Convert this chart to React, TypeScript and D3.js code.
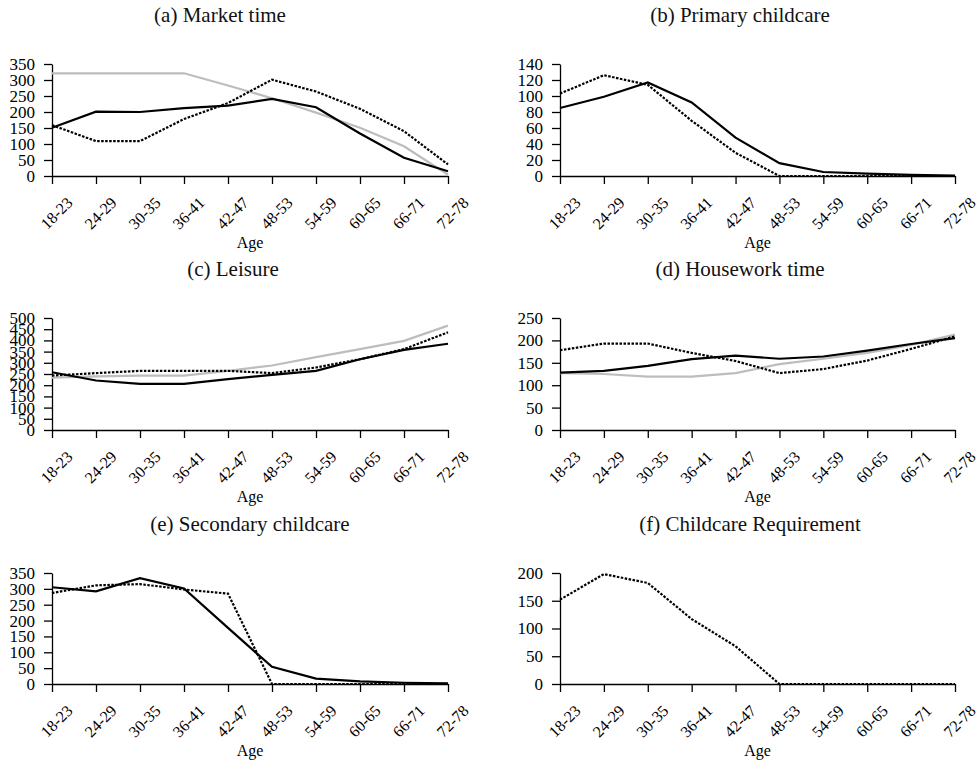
import React, { useRef, useEffect } from 'react';
import * as d3 from 'd3';

const ages = ['18-23', '24-29', '30-35', '36-41', '42-47', '48-53', '54-59', '60-65', '66-71', '72-78'];

// (a) Market time
const marketSolid = [151, 201, 200, 212, 220, 241, 215, 133, 57, 15];
const marketDotted = [159, 109, 109, 178, 228, 301, 264, 210, 140, 36];
const marketGray = [321, 321, 321, 321, 283, 243, 198, 151, 93, 4];

// (b) Primary childcare
const primarySolid = [85, 99, 117, 92, 48, 16, 5, 3, 1.5, 0.5];
const primaryDotted = [103, 126, 114, 69, 29, 0, 0, 0, 0, 0];

// (c) Leisure
const leisureSolid = [258, 221, 206, 206, 227, 246, 264, 316, 358, 385];
const leisureDotted = [243, 254, 264, 264, 264, 254, 279, 316, 361, 436];
const leisureGray = [234, 239, 243, 243, 264, 288, 325, 361, 398, 466];

// (d) Housework time
const houseSolid = [128, 132, 143, 158, 166, 159, 164, 177, 192, 205];
const houseDotted = [178, 193, 193, 172, 154, 127, 136, 155, 181, 209];
const houseGray = [127, 125, 119, 119, 127, 147, 159, 172, 190, 213];

// (e) Secondary childcare
const secondarySolid = [305, 292, 334, 301, 177, 54, 17, 8, 4, 2];
const secondaryDotted = [287, 311, 315, 298, 285, 0, 0, 0, 0, 0];

// (f) Childcare Requirement
const requirementDotted = [152, 198, 182, 117, 68, 0, 0, 0, 0, 0];

const ticksA = [0, 50, 100, 150, 200, 250, 300, 350];
const ticksB = [0, 20, 40, 60, 80, 100, 120, 140];
const ticksC = [0, 50, 100, 150, 200, 250, 300, 350, 400, 450, 500];
const ticksD = [0, 50, 100, 150, 200, 250];
const ticksE = [0, 50, 100, 150, 200, 250, 300, 350];
const ticksF = [0, 50, 100, 150, 200];

const panels = [
  { title: '(a) Market time', ticks: ticksA, solid: marketSolid, dotted: marketDotted, gray: marketGray, col: 0, row: 0, tx: 220 },
  { title: '(b) Primary childcare', ticks: ticksB, solid: primarySolid, dotted: primaryDotted, gray: null, col: 1, row: 0, tx: 740 },
  { title: '(c) Leisure', ticks: ticksC, solid: leisureSolid, dotted: leisureDotted, gray: leisureGray, col: 0, row: 1, tx: 233 },
  { title: '(d) Housework time', ticks: ticksD, solid: houseSolid, dotted: houseDotted, gray: houseGray, col: 1, row: 1, tx: 740 },
  { title: '(e) Secondary childcare', ticks: ticksE, solid: secondarySolid, dotted: secondaryDotted, gray: null, col: 0, row: 2, tx: 250 },
  { title: '(f) Childcare Requirement', ticks: ticksF, solid: null, dotted: requirementDotted, gray: null, col: 1, row: 2, tx: 750 },
];

const W = 980;
const H = 763;
const font = '"Liberation Serif", "Times New Roman", serif';

const draw = (svgRef) => {
  const svg = d3.select(svgRef.current);
  svg.selectAll('*').remove();

  const colX = [[52, 448], [560, 955]];
  const rowY = [[64, 176], [318, 430], [573, 684]];

  panels.forEach((p) => {
    const [x0, x1] = colX[p.col];
    const [y0, y1] = rowY[p.row];
    const g = svg.append('g');

    const x = d3.scalePoint().domain(ages).range([x0, x1]);
    const y = d3.scaleLinear().domain([0, d3.max(p.ticks)]).range([y1, y0]);

    // title
    g.append('text')
      .attr('x', p.tx)
      .attr('y', y0 - 42)
      .attr('text-anchor', 'middle')
      .attr('font-family', font)
      .attr('font-size', 21)
      .attr('fill', '#111')
      .text(p.title);

    // y axis
    const yAxis = g.append('g')
      .attr('transform', `translate(${x0},0)`)
      .call(d3.axisLeft(y).tickValues(p.ticks).tickSize(8).tickSizeOuter(0).tickPadding(9));
    yAxis.selectAll('text').attr('font-family', font).attr('font-size', 17).attr('fill', '#000');
    yAxis.selectAll('line, path').attr('stroke', '#000').attr('stroke-width', 1.3);

    // x axis
    const xAxis = g.append('g')
      .attr('transform', `translate(0,${y1})`)
      .call(d3.axisBottom(x).tickSize(8).tickSizeOuter(0));
    xAxis.selectAll('line, path').attr('stroke', '#000').attr('stroke-width', 1.3);
    xAxis.selectAll('text')
      .attr('font-family', font)
      .attr('font-size', 16)
      .attr('fill', '#000')
      .attr('text-anchor', 'middle')
      .attr('dy', '0.35em')
      .attr('y', 0)
      .attr('transform', 'translate(4,37) rotate(-45)');

    g.append('text')
      .attr('x', (x0 + x1) / 2)
      .attr('y', y1 + 72)
      .attr('text-anchor', 'middle')
      .attr('font-family', font)
      .attr('font-size', 16)
      .attr('fill', '#000')
      .text('Age');

    const line = d3.line()
      .x((d, i) => x(ages[i]))
      .y((d) => y(d));

    if (p.gray) {
      g.append('path')
        .datum(p.gray)
        .attr('fill', 'none')
        .attr('stroke', '#bdbdbd')
        .attr('stroke-width', 2.2)
        .attr('d', line);
    }
    if (p.solid) {
      g.append('path')
        .datum(p.solid)
        .attr('fill', 'none')
        .attr('stroke', '#000')
        .attr('stroke-width', 2.2)
        .attr('d', line);
    }
    if (p.dotted) {
      g.append('path')
        .datum(p.dotted)
        .attr('fill', 'none')
        .attr('stroke', '#000')
        .attr('stroke-width', 2.2)
        .attr('stroke-dasharray', '2.5,1.5')
        .attr('d', line);
    }
  });
};

export default function App() {
  const svgRef = useRef(null);

  useEffect(() => {
    draw(svgRef);
  }, []);

  return (
    <svg ref={svgRef} width={W} height={H} style={{ position: 'absolute', left: 0, top: 0, background: '#fff' }} />
  );
}
